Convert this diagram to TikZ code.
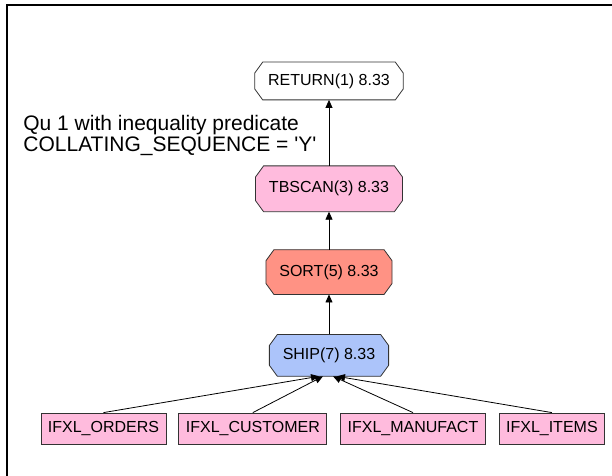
\documentclass[tikz,border=0pt]{standalone}
\usepackage{fontspec}
\setmainfont{Liberation Sans}
\usetikzlibrary{arrows.meta,positioning,calc,backgrounds}
\definecolor{oppink}{RGB}{255,187,221}
\definecolor{opsalmon}{RGB}{255,146,132}
\definecolor{opblue}{RGB}{172,196,250}

\begin{document}
\begin{tikzpicture}[
    x=0.5pt, y=-0.5pt,
    op/.style={rectangle, inner xsep=6.5pt, inner ysep=0pt, minimum height=21pt, font=\fontsize{8}{9.6}\selectfont},
    tbl/.style={draw=black!80, rectangle, fill=oppink, inner xsep=3.5pt, inner ysep=0pt, minimum height=15.5pt, font=\fontsize{8}{9.6}\selectfont},
    flow/.style={-{Triangle[length=4pt,width=3.5pt]}, black}
  ]
  \useasboundingbox (0,0) rectangle (612,476);
  % frame of the window
  \draw[line width=0.75pt] (7,476) -- (7,5) -- (612,5);

  % plan operators
  \node[op, minimum height=18.5pt] (ret) at (329,81) {RETURN(1) 8.33};
  \node[op, minimum height=22.5pt, below=33pt of ret] (tbscan) {TBSCAN(3) 8.33};
  \node[op, minimum height=22pt, below=19pt of tbscan] (sort) {SORT(5) 8.33};
  \node[op, minimum height=20.5pt, below=20pt of sort] (ship) {SHIP(7) 8.33};

  % octagon outlines behind the operators
  \begin{scope}[on background layer]
    \foreach \n/\c in {ret/white, tbscan/oppink, sort/opsalmon, ship/opblue}
      \draw[draw=black!80, fill=\c] ([xshift=4pt]\n.north west) -- ([xshift=-4pt]\n.north east)
        -- ([yshift=-5.5pt]\n.north east) -- ([yshift=5.5pt]\n.south east)
        -- ([xshift=-4pt]\n.south east) -- ([xshift=4pt]\n.south west)
        -- ([yshift=5.5pt]\n.south west) -- ([yshift=-5.5pt]\n.north west) -- cycle;
  \end{scope}

  % base tables
  \node[tbl] (orders) at (103.5,428.5) {IFXL\_ORDERS};
  \node[tbl, right=6pt of orders] (customer) {IFXL\_CUSTOMER};
  \node[tbl, right=6.5pt of customer] (manufact) {IFXL\_MANUFACT};
  \node[tbl, right=6.5pt of manufact] (items) {IFXL\_ITEMS};

  \node[anchor=north west, align=left, inner sep=0pt, font=\fontsize{10.5}{9}\selectfont] (note) at (23,115)
    {Qu 1 with inequality predicate\\COLLATING\_SEQUENCE = \textquotesingle Y\textquotesingle};

  \draw[flow] (tbscan.north) -- (ret.south);
  \draw[flow] (sort.north) -- (tbscan.south);
  \draw[flow] (ship.north) -- (sort.south);
  \draw[flow] (orders.north) -- ($(ship.south)+(-10,0)$);
  \draw[flow] (customer.north) -- ($(ship.south)+(-6,0)$);
  \draw[flow] (manufact.north) -- ($(ship.south)+(4,0)$);
  \draw[flow] (items.north) -- ($(ship.south)+(8,0)$);
\end{tikzpicture}
\end{document}
